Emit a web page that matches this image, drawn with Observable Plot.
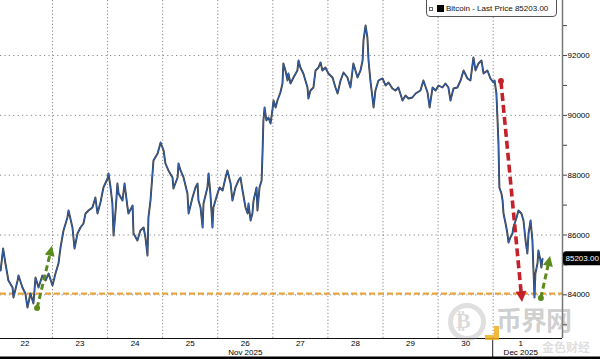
<!DOCTYPE html>
<html><head><meta charset="utf-8">
<script src="https://cdn.jsdelivr.net/npm/d3@7"></script>
<script src="https://cdn.jsdelivr.net/npm/@observablehq/plot@0.6"></script>
<style>
html,body{margin:0;padding:0;background:#fff;}
#wrap{position:relative;width:600px;height:359px;overflow:hidden;font-family:"Liberation Sans",Arial,sans-serif;}
#legend{position:absolute;left:426px;top:-4px;width:129px;height:19px;border:1px solid #555;border-radius:4px;background:#fff;font-size:8px;box-sizing:content-box;}
#legend .ic1{position:absolute;left:2px;top:10px;width:4px;height:4px;border:0.8px solid #666;box-sizing:border-box;}
#legend .ic2{position:absolute;left:10px;top:8px;width:7px;height:7px;background:#000;}
#legend .tx{position:absolute;left:19px;top:7px;white-space:nowrap;color:#111;}
.wm{position:absolute;pointer-events:none;}
</style>
</head><body>
<div id="wrap"></div>
<script>
// Bitcoin - Last Price, time in hours since 2025-11-22 00:00
const hours = [1.4,2.5,3.5,4.8,6.6,7.0,8.8,9.2,10.9,12.2,13.1,14.4,15.7,16.6,17.9,19.6,21.0,22.3,24.0,25.3,26.6,27.5,28.8,30.5,31.0,32.7,33.6,34.9,36.2,37.5,38.4,39.7,41.4,42.7,43.6,44.9,46.2,48.0,48.4,49.3,50.1,50.6,51.5,52.3,52.8,54.5,55.4,56.7,57.1,58.9,59.3,61.0,62.3,63.7,64.5,65.4,65.8,66.7,68.0,69.8,71.1,72.4,73.2,74.5,76.3,76.7,78.5,78.9,79.8,81.1,82.8,83.3,85.0,86.3,87.2,87.6,88.5,89.4,89.8,91.5,92.0,92.8,93.7,94.1,95.9,96.8,98.1,99.4,100.2,101.6,102.4,103.7,105.0,105.9,106.8,108.1,109.0,109.4,110.3,111.1,111.6,112.9,113.3,114.2,115.1,115.5,115.9,116.4,117.2,118.1,119.0,119.8,120.3,121.2,122.0,123.3,124.2,124.6,125.5,126.4,126.8,127.7,129.0,130.7,131.2,132.0,133.3,135.1,135.5,136.4,137.7,138.6,139.9,140.8,141.6,142.9,144.2,146.0,147.3,148.2,149.5,150.8,152.5,153.8,155.1,156.9,158.2,159.1,159.5,160.4,161.2,161.7,162.5,163.9,164.7,166.0,167.8,169.1,170.4,172.1,173.4,174.7,176.5,177.8,179.1,180.8,182.2,184.3,185.6,187.4,188.3,189.6,190.9,192.2,193.9,195.2,196.5,197.4,198.7,200.4,201.8,203.1,204.8,206.1,207.4,208.3,209.6,210.9,211.8,213.5,214.8,216.1,216.6,217.4,217.9,218.3,218.7,219.6,220.1,220.5,221.4,222.2,222.7,223.5,224.4,224.8,226.2,227.0,228.3,229.2,230.1,230.9,231.4,232.3,233.1,233.6,234.0,234.4,235.3,235.7,236.6,237.0,237.5];
const prices = [84813,85548,85047,84478,84244,83910,84478,84645,84244,84043,83575,84043,83709,84579,84244,84645,84478,84712,84311,84712,85047,85582,86150,86585,86819,86251,85548,86050,86251,86384,86719,86819,86919,87254,86719,87087,87588,87889,88056,87588,87053,85983,86819,87722,87387,87153,87722,86919,86719,86986,86050,85816,86150,86251,85916,85314,86585,87153,88491,88725,89093,88825,88391,88157,87923,87555,87923,88391,88157,87923,87387,86719,87254,87588,87722,87153,86919,86251,87053,87588,88056,87387,86251,86919,87387,87588,87488,87923,88157,87722,87153,87588,87822,87923,87488,86919,86719,87053,86485,86719,87153,87588,86819,87588,87822,88725,89829,90263,89829,89929,89728,90163,90497,90263,90497,90765,91066,91735,91501,91166,91400,91066,91267,91501,91835,91601,91400,90932,90564,90832,90932,91501,91601,91768,91501,91601,91400,91267,90932,90731,91166,91434,91267,90932,91735,91267,91501,91835,92504,93005,92604,91835,91166,90263,90832,91166,91233,90999,91099,90899,90832,90932,90497,90665,90564,90598,90731,90832,91166,90765,90263,90932,90832,90999,90932,91066,90932,90497,90899,90932,91166,91501,91233,91166,91935,91501,91735,91835,91400,91501,91233,91099,91166,90731,89829,89059,87588,87387,87153,86719,86384,86050,85749,85916,86050,86251,86585,86819,86719,86485,85816,85381,86050,86485,85816,84712,83910,84712,85047,85481,85147,84913,85203];
const lastPrice = 85203.00;
const seriesName = "Bitcoin - Last Price";

const dayLabels = ["22","23","24","25","26","27","28","29","30","1"];
const dayTickHours = [12,36,60,84,108,132,156,180,204,228];
const dayBoundaryHours = [24,48,72,96,120,144,168,192,216];
const monthLabels = ["Nov 2025","Dec 2025"];
const monthLabelHours = [108,228];
const monthStartHours = [216];

const yTicks = [84000,86000,88000,90000,92000];
const yMinorTicks = [83000,85000,87000,89000,91000,93000];
const xDomain = [1.35,246.2];
const yDomain = [82540,93840];

const supportLevel = 84040;

// annotation arrows
const arrowFromHour = [219.6,17.5,237.0];
const arrowFromPrice = [91130,83540,83880];
const arrowToHour = [228.8,24.0,241.0];
const arrowToPrice = [83740,85620,85280];
const arrowColors = ["#c4222a","#5b8a1d","#5b8a1d"];
const arrowWidths = [3.6,3,3];

const series = hours.map((h,i)=>({h, p: prices[i]}));
const tickLabel = new Map(dayTickHours.map((h,i)=>[h, dayLabels[i]]));

function arrowsMark(index, scales, values, dim) {
  const g = d3.create("svg:g");
  arrowFromHour.forEach((_, i) => {
    const x1 = scales.x(arrowFromHour[i]), y1 = scales.y(arrowFromPrice[i]);
    const x2 = scales.x(arrowToHour[i]), y2 = scales.y(arrowToPrice[i]);
    const ang = Math.atan2(y2-y1, x2-x1);
    const L = i===0 ? 11 : 10, W = i===0 ? 11 : 10;
    const c = Math.cos(ang), s = Math.sin(ang);
    const bx = x2 - L*c, by = y2 - L*s;
    g.append("line").attr("x1",x1).attr("y1",y1).attr("x2",bx+1*c).attr("y2",by+1*s)
      .attr("stroke",arrowColors[i]).attr("stroke-width",arrowWidths[i])
      .attr("stroke-dasharray", i===0 ? "8,4" : "6,3.5");
    g.append("circle").attr("cx",x1).attr("cy",y1).attr("r",3).attr("fill",arrowColors[i]);
    g.append("polygon").attr("points",
      `${x2},${y2} ${bx + W/2*s},${by - W/2*c} ${bx - W/2*s},${by + W/2*c}`)
      .attr("fill",arrowColors[i]);
  });
  return g.node();
}

function chromeMark(index, scales, values, dim) {
  const g = d3.create("svg:g");
  const bottom = dim.height - dim.marginBottom;
  const right = dim.width - dim.marginRight;
  monthStartHours.forEach(h => {
    const x = scales.x(h);
    g.append("line").attr("x1",x).attr("x2",x).attr("y1",bottom).attr("y2",dim.height)
      .attr("stroke","#222").attr("stroke-width",1);
  });
  g.append("rect").attr("x",0).attr("y",dim.height-2.5).attr("width",dim.width).attr("height",2.5).attr("fill","#000");
  const y = scales.y(lastPrice);
  g.append("rect").attr("x",right+1).attr("y",y-7).attr("width",dim.width-right+4).attr("height",14)
    .attr("rx",3).attr("fill","#000");
  g.append("text").attr("x",right+3.5).attr("y",y).attr("dy","0.35em").attr("fill","#fff")
    .attr("text-anchor","start").attr("font-size",8).text(lastPrice.toFixed(2));
  return g.node();
}

const chart = Plot.plot({
  width: 600, height: 359,
  marginLeft: 0, marginRight: 38, marginTop: 0, marginBottom: 21,
  x: {type: "linear", domain: xDomain},
  y: {domain: yDomain},
  style: {fontFamily: '"Liberation Sans", Arial, sans-serif', fontSize: "8px", color: "#000", background: "#fff"},
  marks: [
    Plot.ruleY(yTicks, {stroke: "#888", strokeWidth: 1, strokeDasharray: "1.2,3.2"}),
    Plot.ruleX(dayBoundaryHours, {stroke: "#888", strokeWidth: 1, strokeDasharray: "1.2,2.2"}),
    Plot.ruleY([supportLevel], {stroke: "#e8a53c", strokeWidth: 2.2, strokeDasharray: "6,3"}),
    Plot.line(series, {x: "h", y: "p", stroke: "#3a3a3a", strokeWidth: 1.9}),
    Plot.line(series, {x: "h", y: "p", stroke: "#2f66c0", strokeWidth: 0.9}),
    arrowsMark,
    Plot.ruleY([yDomain[0]], {stroke: "#111", strokeWidth: 1}),
    Plot.ruleX([xDomain[1]], {stroke: "#777", strokeWidth: 1.5}),
    Plot.axisX({ticks: dayTickHours, tickFormat: d => tickLabel.get(d), tickSize: 0, tickPadding: 2, fontSize: 8, label: null}),
    Plot.text(monthLabels, {x: monthLabelHours, text: d => d, frameAnchor: "bottom", dy: 16.5, fontSize: 8}),
    Plot.axisY({anchor: "right", ticks: yMinorTicks, tickSize: 4, tickFormat: () => "", label: null, stroke: "#444"}),
    Plot.axisY({anchor: "right", ticks: yTicks, tickSize: 4, tickPadding: 1, tickFormat: d3.format("d"), fontSize: 8, label: null, stroke: "#444"}),
    chromeMark
  ]
});

const wrap = document.getElementById("wrap");
wrap.appendChild(chart);

const legend = document.createElement("div");
legend.id = "legend";
legend.innerHTML = `<div class="ic1"></div><div class="ic2"></div><div class="tx">${seriesName} ${lastPrice.toFixed(2)}</div>`;
wrap.appendChild(legend);

// watermark (kept clear of the axis labels)
const wm = [
  {html:"", css:"left:448px;top:303px;width:38px;height:38px;border:5px solid rgba(150,150,150,0.3);border-radius:50%;box-sizing:border-box;"},
  {html:"₿", css:"left:456px;top:309px;font:bold 22px/24px 'DejaVu Sans';color:rgba(150,150,150,0.35);"},
  {html:"币界网", css:"left:496px;top:306px;font:bold 26px/26px 'Noto Sans CJK SC';color:rgba(140,140,140,0.42);letter-spacing:-1px;"},
  {html:"金色财经", css:"left:542px;top:341px;font:bold 12px/12px 'Noto Sans CJK SC';color:rgba(170,170,170,0.4);"},
  {html:"", css:"left:485px;top:326px;width:14px;height:14px;border-right:5px solid rgba(235,175,30,0.85);border-bottom:5px solid rgba(235,175,30,0.85);box-sizing:border-box;"}
];
wm.forEach(w => { const d = document.createElement("div"); d.className = "wm"; d.style.cssText = w.css; d.textContent = w.html; wrap.appendChild(d); });
</script>
</body></html>
